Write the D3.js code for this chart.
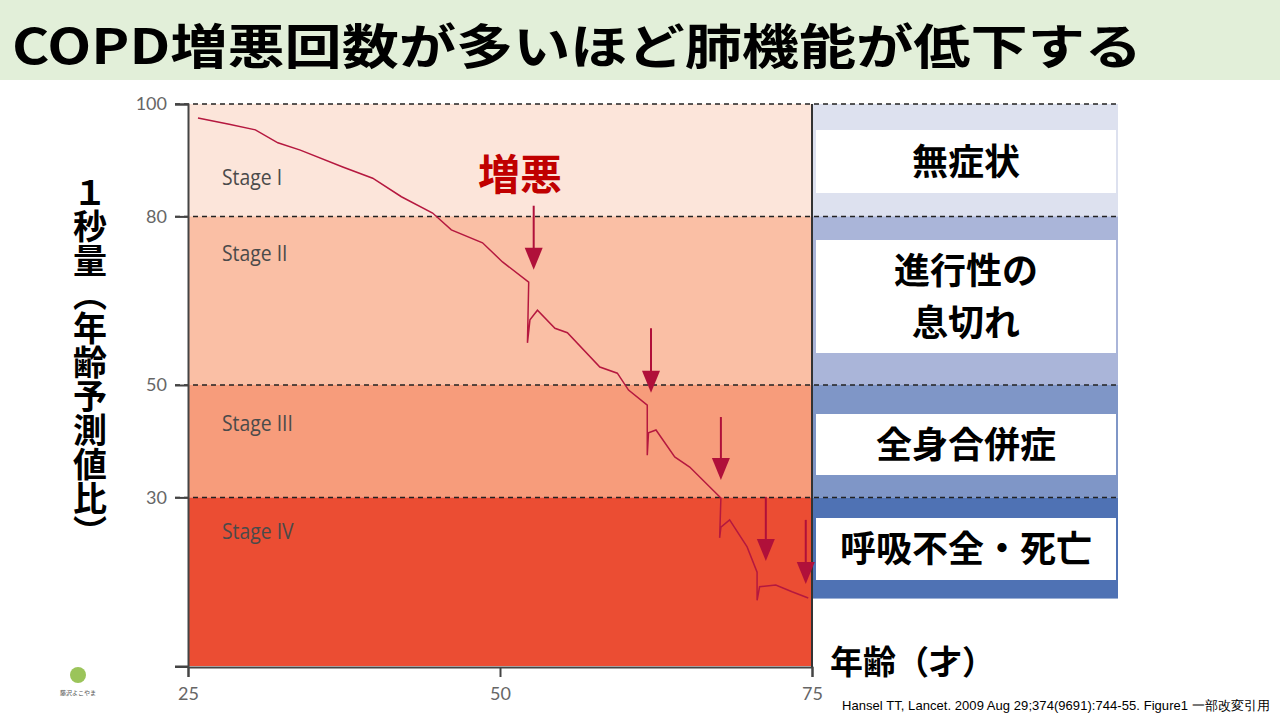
<!DOCTYPE html>
<html><head><meta charset="utf-8">
<script src="https://cdn.jsdelivr.net/npm/d3@7"></script>
<style>body{margin:0;background:#fff;font-family:"Noto Sans CJK JP",sans-serif}</style>
</head><body><svg id="c" width="1280" height="720"></svg>
<script>
// data
var stageNames = ["Stage I", "Stage II", "Stage III", "Stage IV"];
var stageBounds = [[80, 100], [50, 80], [30, 50], [0, 30]];
var stageColors = ["#fce5da", "#fabfa5", "#f79c7b", "#eb4d33"];
var gridLines = [100, 80, 50, 30];
var xTicks = [25, 50, 75];
var ages = [25.8,28.3,30.4,32.2,34.0,37.4,39.8,42.1,44.6,46.1,48.6,50.2,52.3,52.2,52.4,53.0,54.4,55.4,58.0,59.4,60.3,61.8,61.8,61.9,62.5,64.0,65.2,67.7,67.6,67.7,68.4,69.8,70.6,70.6,70.8,72.1,73.4,74.7];
var fev1 = [97.5,96.4,95.4,93.1,91.8,88.8,86.8,83.5,80.6,77.6,75.3,71.9,68.3,57.5,61.6,63.3,60.1,59.3,53.2,52.1,49.1,46.4,37.5,41.5,42.0,37.2,35.4,29.9,22.8,24.7,26.0,21.2,16.7,11.7,14.1,14.4,13.2,12.1];
var arrowAges = [52.7, 62.1, 67.7, 71.3, 74.5];
var arrowTops = [81.9, 60.1, 44.3, 30.1, 26.0];
var arrowTips = [70.5, 48.6, 33.1, 18.7, 14.6];
var symptoms = ["無症状", "進行性の\n息切れ", "全身合併症", "呼吸不全・死亡"];
var bandColors = ["#dde1ef", "#aab5d9", "#7f96c7", "#4f72b4"];
var bandBottom = [80, 50, 30, 12];

var svg = d3.select("#c");
var x = d3.scaleLinear().domain([25, 75]).range([188, 812]);
var y = d3.scaleLinear().domain([0, 100]).range([666, 104]);

// title
svg.append("rect").attr("x", 0).attr("y", 0).attr("width", 1280).attr("height", 80).attr("fill", "#e2efd9");
svg.append("text").attr("x", 12).attr("y", 64).attr("font-size", 48).attr("font-weight", "bold")
  .attr("textLength", 1130).attr("lengthAdjust", "spacingAndGlyphs")
  .text("COPD増悪回数が多いほど肺機能が低下する");

// stages
svg.selectAll(".stage").data(stageBounds).enter().append("rect")
  .attr("x", x(25)).attr("width", x(75) - x(25))
  .attr("y", function (d) { return y(d[1]); })
  .attr("height", function (d) { return y(d[0]) - y(d[1]); })
  .attr("fill", function (d, i) { return stageColors[i]; });
svg.selectAll(".sl").data(stageNames).enter().append("text")
  .attr("x", 222).attr("y", function (d, i) { return [185, 261, 431, 539][i]; })
  .attr("font-family", "'Open Sans', sans-serif").attr("font-size", 22).attr("fill", "#4a4a4a")
  .attr("transform", function (d, i) { return "translate(" + (222 * 0.12) + ",0) scale(0.88,1)"; })
  .text(function (d) { return d; });

// right panel bands
svg.selectAll(".band").data(bandBottom).enter().append("rect")
  .attr("x", 812).attr("width", 306)
  .attr("y", function (d, i) { return y(i === 0 ? 100 : bandBottom[i - 1]); })
  .attr("height", function (d, i) { return y(d) - y(i === 0 ? 100 : bandBottom[i - 1]); })
  .attr("fill", function (d, i) { return bandColors[i]; });
var boxes = [[130, 193], [240, 353], [414, 475], [518, 580]];
boxes.forEach(function (b, i) {
  svg.append("rect").attr("x", 816).attr("y", b[0]).attr("width", 300).attr("height", b[1] - b[0]).attr("fill", "#fff");
  var lines = symptoms[i].split("\n");
  var t = svg.append("text").attr("text-anchor", "middle").attr("font-size", 36).attr("font-weight", "bold");
  lines.forEach(function (l, j) {
    t.append("tspan").attr("x", 966).attr("y", (b[0] + b[1]) / 2 + 13 + (j - (lines.length - 1) / 2) * 52).text(l);
  });
});

// dashed lines
svg.selectAll(".g").data(gridLines).enter().append("line")
  .attr("x1", 175).attr("x2", 1118).attr("y1", y).attr("y2", y)
  .attr("stroke", "#222").attr("stroke-width", 1.5).attr("stroke-dasharray", "5,4");

// axes
var ya = svg.append("g").attr("transform", "translate(188,0)")
  .call(d3.axisLeft(y).tickValues(gridLines).tickSize(13).tickPadding(8));
var xa = svg.append("g").attr("transform", "translate(0,667)")
  .call(d3.axisBottom(x).tickValues(xTicks).tickSize(10).tickPadding(10));
[ya, xa].forEach(function (a) {
  a.select(".domain").attr("stroke", "#444").attr("stroke-width", 2);
  a.selectAll("line").attr("stroke", "#444").attr("stroke-width", 2);
  a.selectAll("text").attr("font-size", 18).attr("fill", "#666").attr("font-family", "Lato, sans-serif");
});
svg.append("line").attr("x1", 175).attr("x2", 188).attr("y1", 667).attr("y2", 667).attr("stroke", "#444").attr("stroke-width", 2);
svg.append("line").attr("x1", 812).attr("x2", 812).attr("y1", 104).attr("y2", 667).attr("stroke", "#333").attr("stroke-width", 2);

// curve
svg.append("path").datum(d3.zip(ages, fev1))
  .attr("d", d3.line().x(function (d) { return x(d[0]); }).y(function (d) { return y(d[1]); }))
  .attr("fill", "none").attr("stroke", "#b5183f").attr("stroke-width", 1.5);

// exacerbation arrows
var ac = "#b0103a";
arrowAges.forEach(function (a, i) {
  var ax = x(a), top = y(arrowTops[i]), tip = y(arrowTips[i]);
  svg.append("line").attr("x1", ax).attr("x2", ax).attr("y1", top).attr("y2", tip - 15).attr("stroke", ac).attr("stroke-width", 2);
  svg.append("path").attr("d", "M" + (ax - 9) + "," + (tip - 22) + "L" + (ax + 9) + "," + (tip - 22) + "L" + ax + "," + tip + "Z").attr("fill", ac);
});
svg.append("text").attr("x", 478).attr("y", 190).attr("font-size", 42).attr("font-weight", "bold").attr("fill", "#c00000").text("増悪");

// axis titles
svg.append("text").attr("x", 90).attr("y", 175).attr("font-size", 34).attr("font-weight", "bold")
  .style("writing-mode", "vertical-rl").text("１秒量（年齢予測値比）");
svg.append("text").attr("x", 830).attr("y", 674).attr("font-size", 33).attr("font-weight", "bold").text("年齢（才）");
svg.append("text").attr("x", 842).attr("y", 710).attr("font-size", 13).attr("font-family", "'Liberation Sans', sans-serif")
  .attr("textLength", 428).text("Hansel TT, Lancet. 2009 Aug 29;374(9691):744-55. Figure1 一部改変引用");

// small logo
svg.append("circle").attr("cx", 78).attr("cy", 675).attr("r", 8).attr("fill", "#9bc45a");
svg.append("text").attr("x", 78).attr("y", 695).attr("text-anchor", "middle").attr("font-size", 6).attr("fill", "#555").text("藤沢よこやま");
</script></body></html>
